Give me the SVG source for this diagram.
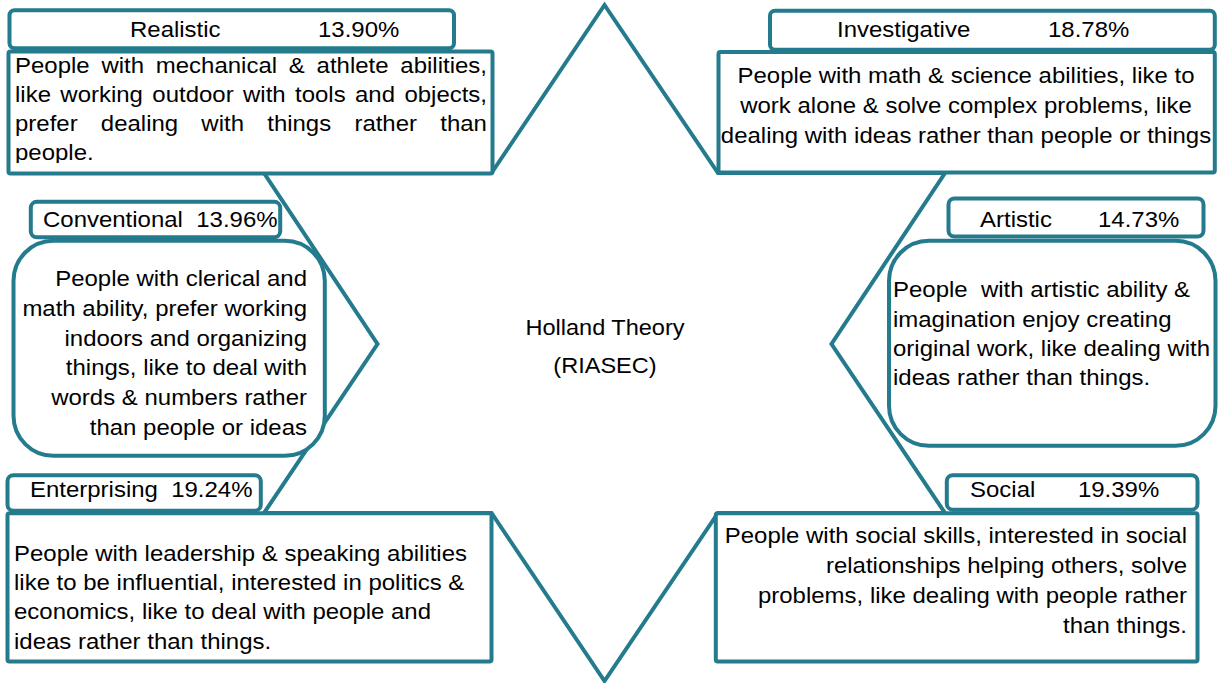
<svg xmlns="http://www.w3.org/2000/svg" width="1218" height="683" viewBox="0 0 1218 683">
<style>
.box{fill:#ffffff;stroke:#247B8D;stroke-width:4;stroke-linejoin:round}
.star{fill:#ffffff;stroke:#247B8D;stroke-width:4;stroke-linejoin:miter;stroke-miterlimit:10}
.t{font-family:"Liberation Sans",Arial,sans-serif;font-size:22px;fill:#000000}
.m{text-anchor:middle}
.e{text-anchor:end}
</style>
<defs>
<clipPath id="clipReal"><rect x="0" y="50" width="500" height="113"/></clipPath>
</defs>
<rect width="1218" height="683" fill="#ffffff"/>
<g id="star-outline">
<polygon class="star" points="604.5,5 491.5,173 264,173 377.5,344 264,513 491.5,513 604.5,681 718,513 945,513 831.5,344 945,173 718,173"/>
</g>
<g id="center">
<g transform="translate(605,0) scale(1.07,1)">
<text class="t m" x="0" y="335">Holland Theory</text>
<text class="t m" x="0" y="373">(RIASEC)</text>
</g>
</g>
<g id="node-realistic">
<rect class="box" x="8.5" y="51.5" width="484" height="122" rx="2"/>
<rect class="box" x="9.5" y="10.3" width="444.5" height="38" rx="5"/>
<g transform="translate(130,0) scale(1.09,1)">
<text class="t" x="0" y="37">Realistic</text>
<text class="t" x="172.5" y="37">13.90%</text>
</g>
<g clip-path="url(#clipReal)">
<g transform="translate(15,0) scale(1.09,1)">
<text class="t" x="0" y="72.7" style="word-spacing:4.7px">People with mechanical &amp; athlete abilities,</text>
<text class="t" x="0" y="101.7" style="word-spacing:2.5px">like working outdoor with tools and objects,</text>
<text class="t" x="0" y="130.7" style="word-spacing:15.2px">prefer dealing with things rather than</text>
<text class="t" x="0" y="159.7">people.</text>
</g>
</g>
</g>
<g id="node-investigative">
<rect class="box" x="718.5" y="52" width="496.3" height="120.5" rx="2"/>
<rect class="box" x="770" y="10.8" width="444.8" height="39" rx="5"/>
<g transform="translate(837,0) scale(1.09,1)">
<text class="t" x="0" y="37">Investigative</text>
<text class="t" x="193.6" y="37">18.78%</text>
</g>
<g transform="translate(966,0) scale(1.09,1)">
<text class="t m" x="0" y="83">People with math &amp; science abilities, like to</text>
<text class="t m" x="0" y="113">work alone &amp; solve complex problems, like</text>
<text class="t m" x="0" y="143">dealing with ideas rather than people or things</text>
</g>
</g>
<g id="node-conventional">
<rect class="box" x="13.5" y="240.8" width="311.3" height="215" rx="40"/>
<rect class="box" x="30.8" y="201.8" width="249.4" height="35.5" rx="6"/>
<g transform="translate(43,0) scale(1.09,1)">
<text class="t" x="0" y="227" xml:space="preserve">Conventional  13.96%</text>
</g>
<g transform="translate(307,0) scale(1.09,1)">
<text class="t e" x="0" y="286">People with clerical and</text>
<text class="t e" x="0" y="316">math ability, prefer working</text>
<text class="t e" x="0" y="345.7">indoors and organizing</text>
<text class="t e" x="0" y="375">things, like to deal with</text>
<text class="t e" x="0" y="405">words &amp; numbers rather</text>
<text class="t e" x="0" y="435">than people or ideas</text>
</g>
</g>
<g id="node-artistic">
<rect class="box" x="889" y="240.8" width="326.5" height="205" rx="40"/>
<rect class="box" x="948.5" y="198.5" width="255" height="38" rx="6"/>
<g transform="translate(980,0) scale(1.09,1)">
<text class="t" x="0" y="227">Artistic</text>
<text class="t" x="108.3" y="227">14.73%</text>
</g>
<g transform="translate(893,0) scale(1.09,1)">
<text class="t" x="0" y="296.7" xml:space="preserve">People  with artistic ability &amp;</text>
<text class="t" x="0" y="326.7">imagination enjoy creating</text>
<text class="t" x="0" y="356">original work, like dealing with</text>
<text class="t" x="0" y="385">ideas rather than things.</text>
</g>
</g>
<g id="node-enterprising">
<rect class="box" x="7.5" y="513.2" width="484" height="148.3" rx="2"/>
<rect class="box" x="7.5" y="475.2" width="253.3" height="35.5" rx="6"/>
<g transform="translate(30,0) scale(1.09,1)">
<text class="t" x="0" y="497" xml:space="preserve">Enterprising  19.24%</text>
</g>
<g transform="translate(14,0) scale(1.09,1)">
<text class="t" x="0" y="560.7">People with leadership &amp; speaking abilities</text>
<text class="t" x="0" y="590">like to be influential, interested in politics &amp;</text>
<text class="t" x="0" y="619">economics, like to deal with people and</text>
<text class="t" x="0" y="649">ideas rather than things.</text>
</g>
</g>
<g id="node-social">
<rect class="box" x="715.8" y="513.2" width="481.7" height="148.3" rx="2"/>
<rect class="box" x="946.8" y="475.2" width="250.7" height="34.5" rx="6"/>
<g transform="translate(970,0) scale(1.09,1)">
<text class="t" x="0" y="497">Social</text>
<text class="t" x="99" y="497">19.39%</text>
</g>
<g transform="translate(1187,0) scale(1.09,1)">
<text class="t e" x="0" y="543">People with social skills, interested in social</text>
<text class="t e" x="0" y="573">relationships helping others, solve</text>
<text class="t e" x="0" y="603">problems, like dealing with people rather</text>
<text class="t e" x="0" y="633">than things.</text>
</g>
</g>
</svg>
